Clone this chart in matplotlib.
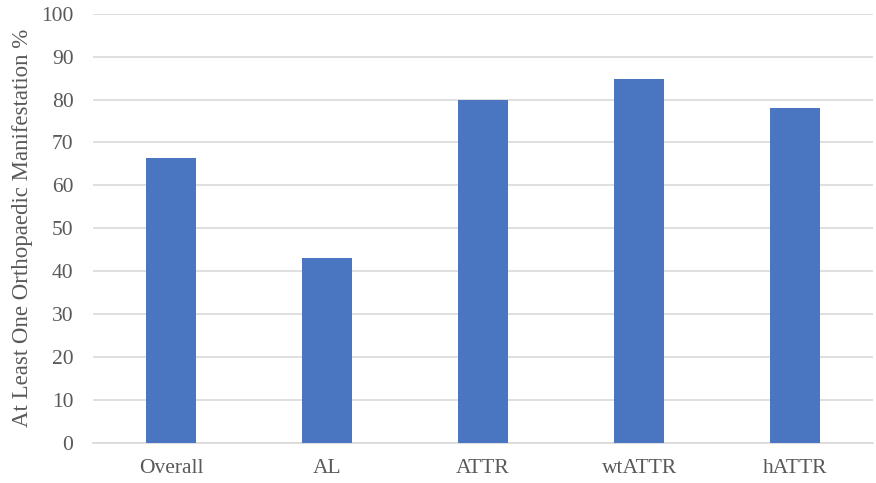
import matplotlib.pyplot as plt

# Share of patients with at least one orthopaedic manifestation, by group
groups = ["Overall", "AL", "ATTR", "wtATTR", "hATTR"]
percent = [66.3, 43.0, 80.0, 84.7, 78.0]
y_ticks = [0, 10, 20, 30, 40, 50, 60, 70, 80, 90, 100]

plt.rcParams['font.family'] = ['Liberation Serif', 'DejaVu Serif']

fig = plt.figure(figsize=(8.76, 4.83), dpi=100)
ax = fig.add_axes([0.106, 0.0834, 0.891, 0.8882])

ax.bar(groups, percent, width=0.32, color="#4A76C1", zorder=3)

ax.set_ylim(0, 100)
ax.set_xlim(-0.5, len(groups) - 0.5)
ax.set_yticks(y_ticks)
ax.yaxis.grid(True, color="#D9D9D9", linewidth=1.2, zorder=0)
ax.tick_params(axis="both", length=0, labelsize=15.5, colors="#595959")
ax.tick_params(axis="y", pad=14)
ax.tick_params(axis="x", pad=12)

for side in ["top", "right", "left"]:
    ax.spines[side].set_visible(False)
ax.spines["bottom"].set_color("#D9D9D9")
ax.spines["bottom"].set_linewidth(1.2)

ax.set_ylabel("At Least One Orthopaedic Manifestation %", fontsize=16.5,
              color="#595959", labelpad=6)

fig.savefig("out.png", dpi=100)
